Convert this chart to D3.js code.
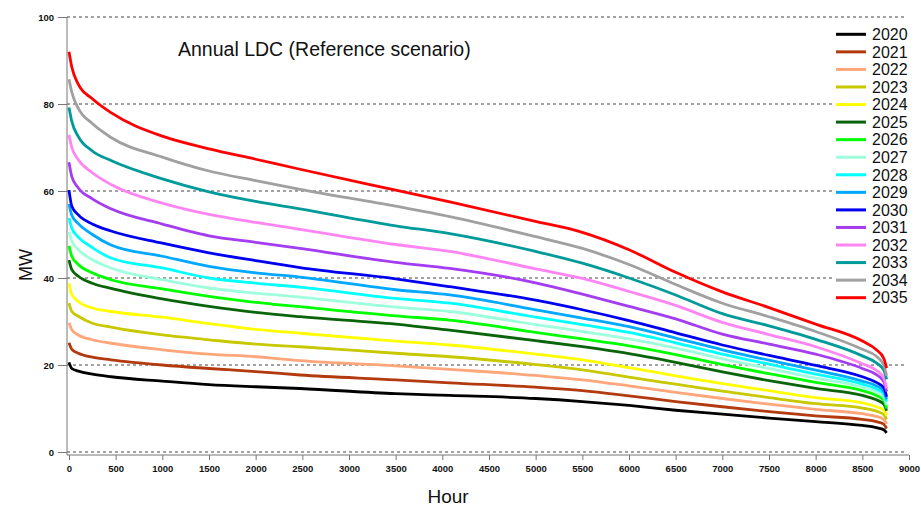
<!DOCTYPE html>
<html>
<head>
<meta charset="utf-8">
<script src="https://cdn.jsdelivr.net/npm/d3@7"></script>
<style>
  body { margin: 0; background: #fff; }
  svg { display: block; font-family: "Liberation Sans", Arial, sans-serif; }
</style>
</head>
<body>
<div id="chart"></div>
<script>
const width = 921;
const height = 512;

// hours of the year (sorted load duration)
const hours = [0, 30, 100, 250, 450, 1000, 1500, 2000, 2475, 3500, 4080, 5000, 5500, 6000, 6500, 7000, 7500, 8000, 8500, 8650, 8730, 8760];

const years = ["2020", "2021", "2022", "2023", "2024", "2025", "2026", "2027",
  "2028", "2029", "2030", "2031", "2032", "2033", "2034", "2035"];

// MW values, one array per year
const y2020 = [20.6, 19.2, 18.6, 17.9, 17.3, 16.3, 15.5, 15.0, 14.6, 13.4, 13.0, 12.3, 11.6, 10.7, 9.6, 8.7, 7.8, 7.0, 6.1, 5.6, 5.1, 4.4];
const y2021 = [25.1, 23.6, 22.7, 21.8, 21.2, 20.0, 19.2, 18.5, 17.7, 16.6, 15.9, 14.9, 14.1, 12.9, 11.6, 10.4, 9.3, 8.3, 7.5, 7.0, 6.4, 5.4];
const y2022 = [29.7, 28.1, 26.9, 25.8, 25.0, 23.5, 22.5, 21.9, 21.0, 19.8, 19.0, 17.6, 16.6, 15.2, 13.7, 12.3, 11.0, 9.8, 8.8, 8.2, 7.5, 6.4];
const y2023 = [34.2, 32.3, 31.2, 29.6, 28.7, 26.9, 25.8, 24.8, 24.2, 22.7, 21.9, 20.1, 18.9, 17.2, 15.6, 14.0, 12.5, 11.1, 10.1, 9.4, 8.6, 7.5];
const y2024 = [38.8, 36.2, 34.6, 33.1, 32.3, 31.0, 29.5, 28.2, 27.3, 25.5, 24.6, 22.5, 21.2, 19.4, 17.5, 15.7, 14.1, 12.5, 11.3, 10.4, 9.6, 8.5];
const y2025 = [44.1, 41.9, 40.4, 38.8, 37.6, 35.2, 33.5, 32.1, 31.1, 29.4, 28.0, 25.6, 24.2, 22.6, 20.6, 18.4, 16.4, 14.6, 13.0, 12.0, 11.0, 9.5];
const y2026 = [47.4, 45.0, 43.1, 41.2, 39.6, 37.5, 35.8, 34.4, 33.4, 31.3, 30.3, 27.5, 26.0, 24.4, 22.4, 20.1, 18.0, 16.0, 14.1, 13.0, 11.9, 10.0];
const y2027 = [50.6, 48.5, 46.5, 44.2, 42.3, 39.6, 37.7, 36.5, 35.6, 33.3, 32.3, 29.3, 27.7, 26.0, 23.9, 21.4, 19.2, 17.0, 14.9, 13.8, 12.6, 10.8];
const y2028 = [53.8, 51.5, 49.4, 47.0, 44.6, 42.3, 40.0, 38.8, 37.9, 35.3, 34.2, 31.0, 29.3, 27.5, 25.1, 22.5, 20.2, 17.9, 15.6, 14.5, 13.4, 11.6];
const y2029 = [57.0, 54.4, 52.5, 50.0, 47.6, 45.0, 42.7, 41.2, 40.2, 37.3, 36.1, 32.7, 30.8, 28.8, 26.2, 23.5, 21.1, 18.8, 16.3, 15.2, 14.0, 12.1];
const y2030 = [60.2, 56.5, 54.5, 52.4, 50.8, 48.0, 45.8, 44.0, 42.4, 39.8, 38.0, 34.9, 32.7, 30.2, 27.4, 24.6, 22.2, 19.9, 17.3, 16.0, 14.8, 12.7];
const y2031 = [66.6, 63.3, 60.7, 58.2, 55.9, 52.4, 49.7, 48.2, 46.8, 43.6, 42.2, 38.9, 36.3, 33.5, 30.6, 27.1, 24.8, 22.5, 19.2, 17.8, 16.2, 13.9];
const y2032 = [72.9, 70.0, 67.2, 64.2, 61.5, 57.2, 54.6, 52.8, 51.2, 47.7, 46.1, 42.1, 39.9, 36.9, 33.7, 29.8, 27.0, 24.2, 20.3, 18.8, 17.0, 14.6];
const y2033 = [79.2, 76.0, 72.5, 69.2, 67.0, 62.8, 59.8, 57.6, 55.9, 52.0, 50.2, 46.1, 43.4, 40.0, 36.1, 31.8, 29.0, 25.9, 22.1, 20.5, 18.8, 16.7];
const y2034 = [85.7, 82.7, 79.0, 75.5, 72.3, 67.8, 64.6, 62.4, 60.4, 56.5, 54.1, 49.5, 46.8, 43.1, 38.5, 34.2, 31.1, 27.7, 23.6, 22.0, 20.0, 17.5];
const y2035 = [92.0, 88.5, 84.5, 81.2, 78.0, 72.6, 69.7, 67.3, 65.0, 60.2, 57.5, 53.0, 50.5, 46.5, 41.3, 36.8, 33.2, 29.4, 25.5, 23.5, 21.5, 19.3];

const xTicks = [0, 500, 1000, 1500, 2000, 2500, 3000, 3500, 4000, 4500, 5000, 5500, 6000, 6500, 7000, 7500, 8000, 8500, 9000];
const yTicks = [0, 20, 40, 60, 80, 100];

const palette = ["#000000", "#b23a0e", "#ffa67a", "#c8c800", "#ffff00", "#0a640a",
  "#00ff00", "#9dffdc", "#00ffff", "#00a8ff", "#0000f0", "#a43cf0",
  "#ff85f2", "#009a9a", "#a0a0a0", "#ff0000"];

const loads = [y2020, y2021, y2022, y2023, y2024, y2025, y2026, y2027,
  y2028, y2029, y2030, y2031, y2032, y2033, y2034, y2035];

const series = years.map((year, i) => ({
  year: year,
  values: hours.map((h, j) => ({ hour: h, mw: loads[i][j] }))
}));

const svg = d3.select("#chart")
  .append("svg")
  .attr("width", width)
  .attr("height", height);

svg.append("rect").attr("width", width).attr("height", height).attr("fill", "#fff");

const x = d3.scaleLinear().domain([0, 9000]).range([69, 909]);
const y = d3.scaleLinear().domain([0, 100]).range([452, 17]);

// dashed grid
svg.append("g")
  .selectAll("line")
  .data(yTicks)
  .enter()
  .append("line")
  .attr("x1", 67)
  .attr("x2", 907)
  .attr("y1", d => y(d))
  .attr("y2", d => y(d))
  .attr("stroke", "#444")
  .attr("stroke-width", 1)
  .attr("stroke-dasharray", "3,3");

// y axis
const yAxis = svg.append("g")
  .attr("transform", "translate(67,0)")
  .call(d3.axisLeft(y).tickValues(yTicks).tickSize(9).tickPadding(4));

// x axis
const xAxis = svg.append("g")
  .attr("transform", "translate(0,455)")
  .call(d3.axisBottom(x).tickValues(xTicks).tickFormat(d3.format("d")).tickSize(5).tickPadding(5));

[yAxis, xAxis].forEach(ax => {
  ax.select(".domain").attr("stroke", "#777");
  ax.selectAll(".tick line").attr("stroke", "#777");
  ax.selectAll(".tick text")
    .attr("fill", "#111")
    .style("font-size", "9.5px")
    .style("font-weight", "bold")
    .style("font-family", "'Liberation Sans', Arial, sans-serif");
});
yAxis.select(".domain").attr("d", "M0,17V455");
xAxis.select(".domain").attr("d", "M67,0H909");

// curves
const line = d3.line()
  .x(d => x(d.hour))
  .y(d => y(d.mw))
  .curve(d3.curveMonotoneX);

svg.append("g")
  .selectAll("path")
  .data(series)
  .enter()
  .append("path")
  .attr("fill", "none")
  .attr("stroke", (d, i) => palette[i])
  .attr("stroke-width", 2.8)
  .attr("stroke-linejoin", "round")
  .attr("d", d => line(d.values));

// title
svg.append("text")
  .attr("x", 178)
  .attr("y", 56)
  .style("font-size", "19.5px")
  .attr("fill", "#111")
  .text("Annual LDC (Reference scenario)");

// axis titles
svg.append("text")
  .attr("transform", "translate(32,265) rotate(-90)")
  .attr("text-anchor", "middle")
  .style("font-size", "18px")
  .attr("fill", "#111")
  .text("MW");

svg.append("text")
  .attr("x", 448)
  .attr("y", 503)
  .attr("text-anchor", "middle")
  .style("font-size", "19px")
  .attr("fill", "#111")
  .text("Hour");

// legend
const legend = svg.append("g");
legend.append("rect")
  .attr("x", 832)
  .attr("y", 25)
  .attr("width", 71)
  .attr("height", 282)
  .attr("fill", "#fff");

const rows = legend.selectAll(".row")
  .data(years)
  .enter()
  .append("g")
  .attr("transform", (d, i) => `translate(836,${34.3 + i * 17.56})`);

rows.append("line")
  .attr("x1", 0)
  .attr("x2", 30)
  .attr("stroke", (d, i) => palette[i])
  .attr("stroke-width", 3);

rows.append("text")
  .attr("x", 36)
  .attr("dy", "0.36em")
  .style("font-size", "16px")
  .attr("fill", "#111")
  .text(d => d);
</script>
</body>
</html>
